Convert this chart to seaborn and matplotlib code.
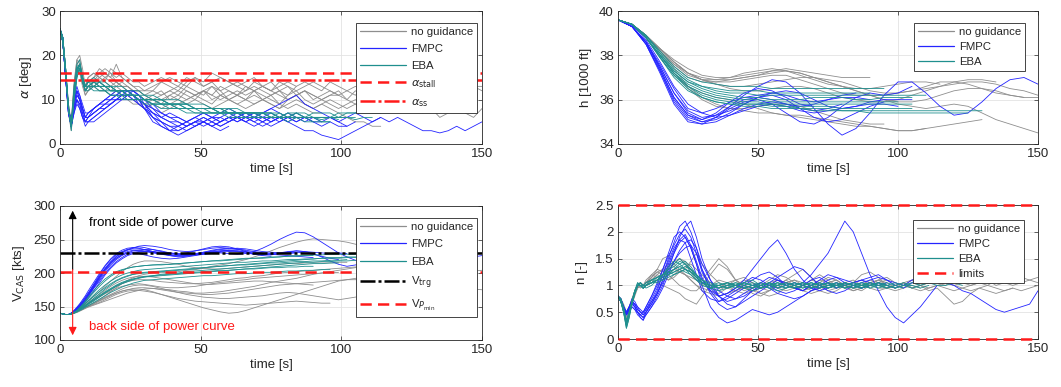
import numpy as np
import pandas as pd
import matplotlib
matplotlib.use("Agg")
import matplotlib.pyplot as plt
from matplotlib.lines import Line2D
import seaborn as sns

# ---------------------------------------------------------------------------
# Time grids [s]
# fine grid for the noisy channels (alpha, V_CAS, n), coarse for altitude
T_FINE = list(range(0, 11)) + list(range(12, 31, 2)) + list(range(33, 151, 3))
T_ALT = list(range(0, 151, 5))

GROUPS = ["no guidance", "FMPC", "EBA"]

# ---------------------------------------------------------------------------
# Angle of attack alpha [deg]
alpha_noguid = [
    [26,23,16,8,5,13,19,20,17,13,14, 15,17,16,15,18,15,14,13,12,11,
     12,14,13,12,14,15,13,14,12,13, 14,13,12,13,14,12,11,13,14,13,
     12,14,13,12,11,13,14,13,12,13, 14,13,12,14,13,14,13,12,13,13],
    [26,24,17,9,4,11,17,18,15,12,12, 13,14,15,16,14,13,13,12,12,11,
     10,11,12,11,10,11,12,10,11,10, 9,10,11,10,9,8,10,11,9,8,
     9,8,7,6,5,5,4,4],
    [26,23,15,7,3,9,15,17,14,11,12, 13,14,13,12,13,12,11,10,9,8,
     9,10,11,12,11,10,12,13,11,12, 11,10,12,11,10,9,11,12,10,9,
     10,9,8,9,10,9,8,9,7,8, 9,8,7,8,6,7,8,7,6,8],
    [26,23,16,8,5,14,19,18,15,13,15, 16,15,14,17,16,15,14,13,13,12,
     13,14,15,14,13,15,14,16,15,14, 13,14,15,13,12,14,13,12,13,14,
     13,12,11,12,13,12,11,12,11,10,10],
    [26,24,16,8,4,12,17,16,13,11,12, 14,13,12,13,12,12,11,10,9,9,
     10,9,11,10,12,11,10,9,11,10, 9,8,9,10,11,9,8,9,8,7,7],
    [26,23,16,8,4,10,16,18,16,13,13, 14,15,14,13,14,13,12,11,10,9,
     8,7,8,9,10,11,12,11,13,12, 11,12,13,12,11,12,13,11,12,10,
     11,12,11,10,12,11,10,12,11,12, 11,10,11,12,13,12,11,12,13,12],
    [26,23,16,8,4,12,18,19,15,12,13, 14,16,15,14,13,14,13,12,11,10,
     11,12,10,11,13,12,11,13,12,10, 11,13,12,10,11,12,10,11,12,11,
     10,11,12,10,9,10,11,10,9,10, 9,10,11,10,9,8,9,10],
    [26,24,17,9,5,13,18,17,14,12,14, 15,16,17,16,15,16,15,14,14,13,
     14,15,14,13,15,14,13,14,15,14, 13,12,14,13,12,13,14,13],
    [26,23,15,7,4,11,16,17,14,12,13, 13,12,12,11,12,11,10,9,9,8,
     9,8,9,10,9,10,9,8,9,10, 11,10,9,10,9,8,9,10,9,8,
     9,10,9,8,9,8,7,8,9,8, 8,9,8,9],
    [26,24,17,8,4,12,17,18,15,13,15, 16,15,16,15,14,13,13,12,12,12,
     12,11,12,13,12,11,12,11,10,11, 12,11,12,13,12,11,10,11,12,11, 10,11,11],
]
alpha_fmpc = [
    [26,23,15,7,4,7,10,9,7,5,5, 6,7,8,9,10,11,11,12,11,10,
     8,6,5,4,5,4,5,6,5,6, 7,6,5,6,7,6,5,6,5,6, 5,6,5,4],
    [26,24,16,8,4,8,11,10,8,6,6, 7,8,9,10,10,11,11,10,10,9,
     7,5,3,2,3,4,5,4,5,6, 5,6,5,4,5,6,5,4,3,3,
     2,1.5,1,2,3,4,5,6,5,6, 5,4,3,3,2.5,3,4,3,4,5],
    [26,23,15,7,4,9,12,11,9,7,7, 8,9,10,11,12,12,12,12,11,10,
     9,7,6,6,5,6,7,6,5,6, 5,6,7,6,5,6,5],
    [26,23,15,8,5,8,10,9,6,4,5, 6,7,8,9,10,10,11,11,10,9,
     8,7,6,5,4,5,6,5,4,5, 6,7,6,7,8,9,10,11,9,8, 7,6,5,6,7,6,5,6],
    [26,24,16,8,5,9,11,10,8,6,6, 7,8,9,9,10,10,11,11,10,9,
     6,5,4,3,4,5,5,6,6,7, 6,5,6,5,4,5,6,5,6,5,5],
    [26,23,15,7,4,10,12,10,7,5,6, 8,9,10,10,11,12,12,11,10,8,
     6,4,3,4,3,4,5,4,3,4],
    [26,23,16,8,4,7,9,8,6,5,6, 7,8,8,9,10,11,12,12,11,9,
     7,6,5,5,4,5,6,5,6,5, 6,7,6,5,6,5,6,7,6,5],
    [26,24,16,8,4,9,12,10,8,6,7, 8,9,9,10,11,11,11,11,10,8,
     5,4,3,3,4,5,4,5,4,5, 6,5,4,5,6],
    [26,23,15,7,4,8,10,8,6,5,5, 5,6,7,8,9,10,10,10,9,8,
     6,5,4,4,5,6,5,4,5,6, 6,5,6,7,8,7,6,5,6,5, 4,5,4,4,5],
    [26,23,15,8,5,10,13,11,8,6,7, 8,9,10,11,11,12,12,11,9,8,
     7,6,7,6,5,6,7,6,7,8, 7,6,7,6,5,6,7,6],
]
alpha_eba = [
    [26,24,17,8,4,10,16,18,15,13,14, 14,13,13,12,12,12,11,11,11,10,
     10,9,9,9,8,8,8,8,7,7, 7,7,7,6,6,7,6,6,6,6, 5.5,6,6,6,5.5,6,6],
    [26,23,16,8,4,12,17,18,14,12,13, 14,14,13,13,12,12,12,11,11,11,
     10,10,9,9,9,8,8,8,8,7, 7,7,7,7,6,6,7,6,6,6, 6,6,5.5],
    [26,24,17,9,4,11,16,17,15,13,13, 13,13,12,12,12,11,11,11,10,10,
     9,9,9,8,8,8,8,8,7,8, 7,7,7,7,7,6,7,7,6,7, 7,7,6,7,7,8,7,7,7,8,8],
    [26,23,16,8,3,10,15,17,14,12,12, 13,12,12,11,11,11,10,10,10,9,
     9,8,8,8,7,7,7,7,7,6, 6,6,6,6,6,6,5,6,5,5],
    [26,24,17,8,4,13,18,19,15,13,14, 15,14,14,13,13,13,12,12,12,11,
     11,10,10,10,9,9,9,8,8,8, 8,7,7,7,7,7,6,7,6,6, 6,6,6,6,6],
    [26,23,16,8,4,11,17,17,14,12,13, 12,12,12,11,11,10,10,10,10,10,
     9,9,8,8,8,7,7,7,7,7, 6,6,6,7,6,6,6,6,6,6, 5,5],
    [26,24,17,8,4,11,17,18,15,13,14, 13,14,13,13,12,12,12,11,11,10,
     10,10,9,9,9,8,8,8,8,7, 7,7,7,7,6,6,6,6,6,6, 6,6,6],
    [26,23,16,8,4,12,17,18,14,12,13, 13,13,13,12,12,11,11,11,10,10,
     9,9,9,9,8,8,8,7,7,7, 7,7,7,7,7,6,6,7,7,6, 6,6,7,7,7,7,7,7],
    [26,24,17,8,4,10,15,17,15,12,13, 14,13,13,12,12,12,11,11,10,10,
     10,9,9,8,8,8,7,7,7,7, 7,6,6,6,6,6,6,6,6,6],
    [26,23,16,8,4,11,16,18,15,13,14, 14,14,13,13,12,12,11,11,11,10,
     10,10,9,9,9,8,8,8,7,7, 7,7,6,6,6,6,6,6,6,5,5,5],
]
ALPHA_STALL = 16.0
ALPHA_SS = 14.5

# ---------------------------------------------------------------------------
# Altitude h [1000 ft]
h_noguid = [
    [39.6,39.4,38.9,38.2,37.6,37.2,37.0,36.9,36.9,37.0,37.1,37.2,37.3,37.2,37.0,36.8,
     36.6,36.4,36.2,36.0,35.8,35.7,35.6,35.7,35.8,35.7,35.4,35.1,34.9,34.7,34.5],
    [39.6,39.4,38.9,38.3,37.8,37.4,37.1,37.0,37.0,37.1,37.2,37.3,37.3,37.2,37.0,36.8,
     36.6,36.4,36.2,36.0,35.9,35.9,36.0,36.2,36.4,36.5,36.5,36.4,36.2,36.1],
    [39.6,39.4,38.8,38.0,37.2,36.6,36.3,36.1,36.0,35.8,35.6,35.4,35.3,35.2,35.1,35.0,
     34.9,34.8,34.8,34.7,34.6,34.6,34.7,34.8,34.9,35.0,35.1],
    [39.6,39.4,38.9,38.3,37.7,37.2,36.9,36.7,36.6,36.6,36.7,36.8,36.9,37.0,37.0,36.9,
     36.8,36.6,36.4,36.3,36.3,36.4,36.5,36.6,36.7,36.8,36.8,36.7,36.5,36.4,36.2],
    [39.6,39.4,38.9,38.2,37.5,37.0,36.8,36.8,36.9,37.0,37.1,37.3,37.4,37.3,37.2,37.1,
     37.0,37.0,37.0],
    [39.6,39.4,38.9,38.2,37.4,36.6,36.1,35.8,35.6,35.5,35.4,35.4,35.3,35.3,35.2,35.1,
     35.0,34.9,34.8,34.7,34.6,34.6,34.7],
    [39.6,39.4,38.9,38.3,37.7,37.2,36.9,36.7,36.5,36.4,36.4,36.5,36.6,36.6,36.5,36.3,
     36.1,36.0,35.9,35.9,36.0,36.2,36.4,36.6,36.8,36.9,36.9,36.8],
    [39.6,39.4,38.9,38.2,37.6,37.1,36.9,36.9,37.0,37.2,37.3,37.4,37.3,37.1,36.9,36.7,
     36.6,36.5,36.5,36.6,36.7,36.8,36.8,36.7],
    [39.6,39.4,38.8,38.0,37.2,36.5,36.0,35.7,35.6,35.6,35.7,35.8,35.8,35.7,35.5,35.3,
     35.1,35.0,34.9,34.9],
    [39.6,39.4,38.9,38.3,37.7,37.2,36.9,36.8,36.8,36.9,37.0,37.1,37.1,36.9,36.7,36.5,
     36.3,36.2,36.2,36.2,36.3,36.4,36.6,36.8,36.8,36.7,36.5,36.3,36.2,36.1,36.1],
]
h_fmpc = [
    [39.6,39.3,38.6,37.5,36.3,35.4,35.1,35.3,35.7,36.2,36.6,36.9,36.8,36.3,35.6,34.9,
     34.4,34.7,35.4,36.2,36.8,36.8,36.3,35.7,35.3,35.4,35.9,36.5,36.9,37.0,36.7],
    [39.6,39.3,38.5,37.3,36.0,35.2,35.0,35.2,35.6,35.9,36.0,35.8,35.4,35.0,34.9,35.2,
     35.7,36.1,36.3,36.2,36.3,36.6],
    [39.6,39.3,38.5,37.3,35.9,35.1,34.9,35.0,35.3,35.6,35.8,35.9,35.8,35.6,35.5,35.6,
     35.8],
    [39.6,39.3,38.6,37.6,36.5,35.6,35.4,35.6,35.9,36.1,36.2,36.3,36.2,36.0,35.9,36.0,
     36.1,36.1,36.0],
    [39.6,39.3,38.6,37.4,36.1,35.3,35.1,35.4,35.9,36.3,36.5,36.4,36.1,35.8,35.7],
    [39.6,39.4,38.7,37.7,36.6,35.8,35.4,35.2,35.3,35.5,35.7,35.8,35.7,35.5,35.4,35.5,
     35.6,35.7,35.8,35.8,35.7],
    [39.6,39.3,38.5,37.2,35.8,35.0,34.9,35.2,35.7,36.0,36.1,36.0,35.8,35.7,35.8,36.0,
     36.2,36.3],
    [39.6,39.3,38.6,37.5,36.3,35.5,35.2,35.3,35.5,35.8,36.1,36.3,36.4,36.3,36.0,35.7,
     35.6,35.7,35.9,36.0,36.0,36.0],
    [39.6,39.3,38.6,37.4,36.1,35.3,35.0,35.1,35.4,35.8,36.1,36.2,36.0,35.6,35.2,35.0,
     35.1,35.4,35.7,35.9],
]
h_eba = [
    [39.6,39.4,38.8,38.0,37.3,36.8,36.5,36.3,36.2,36.1,36.1,36.0,36.0,36.0,36.1,36.1,
     36.1,36.0,36.0,36.1,36.1,36.1],
    [39.6,39.4,38.8,37.9,37.1,36.5,36.1,35.9,35.8,35.7,35.7,35.6,35.6,35.6,35.5,35.5,
     35.5,35.5,35.4,35.4,35.4,35.4,35.4,35.4,35.4,35.4],
    [39.6,39.4,38.9,38.2,37.5,37.0,36.8,36.7,36.6,36.6,36.6,36.5,36.5,36.5,36.5,36.5,
     36.5,36.5,36.5,36.5],
    [39.6,39.4,38.8,37.9,37.0,36.4,36.1,35.9,35.8,35.8,35.8,35.8,35.7,35.7,35.7,35.7,
     35.6,35.6,35.6,35.6,35.6,35.6],
    [39.6,39.4,38.9,38.1,37.3,36.8,36.6,36.5,36.4,36.4,36.4,36.3,36.3,36.3,36.3,36.3,
     36.3,36.3,36.3],
    [39.6,39.4,38.8,38.0,37.2,36.7,36.4,36.2,36.1,36.0,36.0,35.9,35.9,35.9,35.9,35.9,
     35.9,35.9,35.9,35.9,35.9],
    [39.6,39.4,38.8,38.0,37.2,36.6,36.3,36.1,36.0,35.9,35.9,35.8,35.8,35.8,35.8,35.8,
     35.8,35.8,35.8,35.8,35.8,35.8],
    [39.6,39.4,38.9,38.1,37.4,36.9,36.6,36.4,36.3,36.3,36.2,36.2,36.2,36.2,36.2,36.2,
     36.2,36.2,36.2,36.2,36.2,36.2,36.2],
    [39.6,39.4,38.8,37.9,37.1,36.6,36.2,36.0,35.9,35.8,35.8,35.7,35.7,35.6,35.6,35.6,
     35.5,35.5,35.5,35.5,35.5,35.5,35.5,35.5,35.5,35.5,35.5],
]

# ---------------------------------------------------------------------------
# Calibrated airspeed V_CAS [kts]
v_noguid = [
    [140,139,138,138,139,141,143,145,147,149,151, 155,160,166,172,178,184,189,193,196,198,
     200,201,200,202,204,205,207,210,212,214, 217,220,224,228,233,238,242,246,249,251,
     250,249,248,246,243,240,238,236,234,232, 231,230,231,230,229,230,231,230,229,230],
    [140,139,138,138,139,140,142,144,146,148,150, 154,158,162,166,170,173,175,176,176,175,
     172,168,164,160,156,152,148,145,142,140, 141,144,148,152,156,160,164,168,172,176,
     180,184,188,190,192,194,196,198,200,201],
    [140,139,138,138,139,141,143,145,147,149,151, 155,159,164,168,172,176,179,181,182,182,
     180,177,174,171,168,166,164,163,162,162, 163,164,165,166,168,170,171,170,168,166,
     164,162,160,162,164,166,168,170,172,173, 172,170,171,173,174,175,176,175,176,175],
    [140,139,138,138,139,141,143,146,149,152,155, 160,165,170,175,180,184,187,189,190,190,
     189,187,186,185,184,184,185,186,188,190, 192,193,195,196,198,200,201,202,203,204,
     205,206,207,208,209,210],
    [140,139,138,138,139,140,141,143,145,147,149, 152,155,158,161,164,167,170,172,174,176,
     177,176,175,173,172,170,170,171,172,174, 176,178,180,183,186,188,190,192,195,198,
     200,202,204,206,208,210,211,212,213,214, 214,213,212,212,211,210,210,209],
    [140,139,138,138,139,140,142,144,146,148,150, 153,156,160,164,168,171,173,174,174,173,
     171,168,165,162,160,158,157,156,155,154, 153,152,153,154,155,156,157,158,157,156,
     155,155],
    [140,139,138,138,139,141,144,147,150,154,158, 165,172,180,188,195,202,208,213,216,218,
     218,217,215,213,210,208,207,206,206,207, 208,209,210,211,212,213,214,214,215,215,
     215,215,216,216],
    [140,139,138,138,139,141,143,146,148,151,154, 159,164,169,173,177,180,182,183,184,183,
     181,179,178,178,179,180,182,184,186,187, 189,190,192,193,194,195,196,197,198,199,
     200,200,201],
    [140,139,138,138,139,140,142,144,146,149,151, 155,159,163,167,170,173,175,177,178,178,
     177,175,173,171,170,169,168,168,169,170, 172,174,176,178,180,182,183,184,185,186,
     187,188,189,190,190,191,192,193,194,195, 196,197,198,199,200,201,202,203,203,204],
    [140,139,138,138,139,141,143,146,149,152,156, 162,168,174,180,185,189,192,194,195,195,
     194,192,190,188,186,184,183,183,184,185, 186,187,188,188,187,186,185,184,183,182],
]
v_fmpc = [
    [140,139,138,138,140,143,146,150,155,160,166, 178,190,202,212,220,226,230,233,234,235,
     235,233,230,228,227,227,228,230,232,234, 235,234,232,230,229,230,232,233,232,231,
     230,229,230,229],
    [140,139,138,138,140,142,145,149,154,159,165, 177,188,199,209,217,223,228,231,232,232,
     230,228,226,224,225,227,229,231,230,229, 228,229,232,237,243,250,256,261,260,254,
     246,238,230,224,219,215,212,214,218,222, 225,228,229,228,226,225,224,223,224,226],
    [140,139,138,138,140,144,148,153,158,164,170, 182,195,207,217,225,231,235,238,239,238,
     235,232,229,228,230,233,236,239,240,239, 236,232,228,226,225],
    [140,139,138,138,140,143,147,151,156,161,167, 180,193,205,215,222,227,230,230,229,227,
     224,222,221,222,224,226,228,229,231,232, 233,232,231,229,228,227,226,225,224,223],
    [140,139,138,138,140,142,145,148,152,157,162, 173,185,197,207,215,221,226,229,231,232,
     232,231,230,229,228,228,229,231,233,234, 233,231,229,228,227,229,231,233,232,229,
     224,218,213,210,212,215,218],
    [140,139,138,138,140,143,146,150,155,161,168, 181,194,206,216,224,230,234,237,240,241,
     240,238,235,233,232,233,235,237,238,237],
    [140,139,138,138,140,143,147,152,157,163,169, 183,197,210,220,227,232,235,236,236,235,
     232,229,227,226,226,228,230,233,235,236, 237,236,234,232,231,230,229,230],
    [140,139,138,138,140,142,146,150,155,160,166, 179,192,204,214,222,228,232,234,234,233,
     231,229,227,227,228,229,231,232,233,233, 232,230,228,227,228,229,230,231,230,228,
     225,222,220],
    [140,139,138,138,140,144,149,154,160,166,173, 186,199,211,221,229,234,237,238,237,235,
     232,229,226,225,226,228,231,234,236,237, 236,234],
]
v_eba = [
    [140,139,138,138,139,141,143,146,149,152,155, 162,169,176,182,188,192,195,198,199,200,
     201,202,203,204,205,206,208,209,210,211, 212,213,214,215,216,217,218,219,220,221,
     222,223,223,224,224,225],
    [140,139,138,138,139,141,143,145,148,151,154, 160,166,172,177,182,186,189,191,193,194,
     195,196,197,198,199,200,201,202,203,204, 205,206,207,208,209,210,211,212,213,214,
     214,215,215],
    [140,139,138,138,139,141,144,147,151,155,159, 167,175,182,188,193,197,200,202,204,205,
     206,207,208,209,210,211,212,213,214,215, 216,216,217,218,218,219,220,220,221,221,
     222,222,222,223,223,222,222,221,221,222,221],
    [140,139,138,138,139,140,142,144,146,149,151, 156,161,166,171,175,179,182,185,187,189,
     190,191,192,193,194,195,196,196,197,198, 199,199,200,201,201,202,203,203,204,204,
     205,205],
    [140,139,138,138,139,141,144,148,152,157,162, 171,180,188,195,200,204,207,209,210,211,
     212,213,213,214,215,216,217,218,219,220, 221,222,222,223,224,224,225,226,226,227,
     227,228,228,228,228],
    [140,139,138,138,139,141,143,145,148,150,153, 158,164,170,175,180,184,187,190,192,194,
     196,197,198,199,200,201,202,203,204,204, 205,206,206,207,208,208,209,209,210,210],
    [140,139,138,138,139,141,143,146,150,154,158, 165,172,178,184,189,193,196,198,200,201,
     202,203,204,205,206,207,208,209,210,211, 212,212,213,214,215,215,216,217,217,218,
     218,219,219,220],
    [140,139,138,138,139,140,142,145,148,151,154, 160,166,171,176,181,185,188,191,193,195,
     196,198,199,200,202,203,204,205,206,207, 208,209,210,211,212,213,214,215,216,216,
     217,217,218,218,219],
    [140,139,138,138,139,141,144,148,153,158,164, 174,183,191,197,202,205,207,209,210,211,
     212,212,213,214,215,216,217,218,218,219, 220,221,222,222,223,224,225,225,226,226],
]
V_TRG = 230.0
V_PMIN = 201.0

# ---------------------------------------------------------------------------
# Load factor n [-]
n_noguid = [
    [0.8,0.75,0.65,0.5,0.55,0.7,0.85,0.95,1.0,0.95,1.0, 1.1,1.2,1.15,1.1,1.2,1.3,1.35,1.4,1.3,1.2,
     1.05,0.95,1.0,0.9,0.95,1.0,1.05,1.0,0.95,1.05, 1.1,1.0,0.95,1.0,1.05,1.1,1.0,0.95,1.0,1.05,
     1.1,1.0,0.95,1.05,1.1,1.0,0.95,1.0,1.05,1.0, 0.95,1.0,1.05,1.1,1.0,1.05,1.1,1.15,1.1,1.15],
    [0.8,0.7,0.55,0.45,0.55,0.7,0.85,1.0,1.05,1.0,1.05, 1.15,1.25,1.3,1.2,1.1,1.0,0.95,0.9,0.9,1.0,
     1.2,1.4,1.3,1.1,1.0,0.9,0.95,1.05,1.1,1.0, 0.95,0.9,1.0,1.1,1.05,0.95,1.0,1.05,1.2,1.25,
     1.15,1.0,0.95,1.0,1.05,1.0,0.9,0.95,0.8,0.65, 0.7,0.85,0.95,1.0,0.95,0.9,0.95],
    [0.8,0.75,0.6,0.45,0.5,0.65,0.8,0.95,1.0,1.0,1.05, 1.1,1.05,1.0,0.95,0.9,0.85,0.75,0.7,0.65,0.8,
     1.0,1.1,1.05,1.0,0.9,0.95,1.0,1.05,0.95,0.9, 0.95,1.0,1.1,1.05,0.95,1.0,1.05,1.0,0.95,1.0,
     1.05,1.1,1.0,1.05,0.95,1.0,1.05],
    [0.8,0.7,0.6,0.5,0.6,0.75,0.9,1.0,1.0,0.95,1.0, 1.15,1.3,1.5,1.55,1.4,1.3,1.2,1.1,1.0,0.95,
     0.9,0.85,0.95,1.0,1.1,1.05,0.95,0.9,1.0,1.1, 1.2,1.3,1.15,1.0,0.9,0.95,1.05,1.1,1.0,0.95,
     0.9,0.95,1.0,1.05,0.95,0.9,0.95,1.0,0.95,0.9, 0.95,0.9,0.95,0.9,0.85,0.9,0.95,0.9,0.95,1.0],
    [0.8,0.75,0.6,0.5,0.55,0.7,0.85,1.0,1.05,1.0,1.0, 1.05,1.1,1.2,1.3,1.4,1.5,1.45,1.3,1.2,1.1,
     1.3,1.5,1.35,1.1,0.95,0.9,0.85,0.9,1.0,1.05, 1.1,1.05,1.0,0.9,0.85,0.9,1.0,1.05,1.1,1.0,
     0.95,0.95,1.0],
    [0.8,0.7,0.55,0.4,0.5,0.7,0.85,1.0,1.05,1.0,1.05, 1.2,1.15,1.1,1.2,1.3,1.25,1.2,1.15,1.1,1.05,
     1.0,0.95,1.05,1.1,1.0,0.85,0.8,0.9,1.0,1.1, 1.0,0.9,0.95,1.05,1.15,1.1,1.0,0.9,0.95,1.05,
     1.1,1.05,0.95,1.0,1.1,1.15,1.1,1.05,1.0,1.1, 1.05,1.0,1.05],
    [0.8,0.7,0.6,0.5,0.6,0.75,0.9,1.0,0.95,1.0,1.1, 1.2,1.3,1.25,1.35,1.45,1.5,1.4,1.25,1.1,1.0,
     0.95,0.9,1.0,1.1,1.15,1.05,0.95,1.0,1.1,1.05, 0.95,1.0,1.1,1.2,1.1,1.0,1.05,0.95,1.0,1.1,
     1.05,0.95,1.0],
    [0.8,0.75,0.6,0.45,0.55,0.7,0.9,1.0,1.05,1.0,1.05, 1.1,1.2,1.3,1.4,1.35,1.25,1.3,1.45,1.6,1.4,
     1.2,1.05,0.95,0.9,0.85,0.9,1.0,1.1,1.2,1.15, 1.05,1.0,0.9,0.95,1.05,1.1,1.0,0.95,0.9,1.0,
     1.1,1.15,1.05,1.0,0.95,1.0,1.05,1.1,1.05,1.0, 1.05,1.1,1.05,1.0,1.1,1.05,1.0,1.05,1.1,1.05],
    [0.8,0.7,0.55,0.45,0.55,0.7,0.85,0.95,1.0,1.0,1.05, 1.15,1.25,1.2,1.1,1.15,1.25,1.2,1.1,1.0,0.9,
     0.85,0.8,0.85,0.9,1.0,0.95,0.85,0.8,0.85,0.95, 1.0,0.9,0.85,0.9,1.0,1.05,0.95,0.9,0.95,1.05,
     1.0,0.95,0.9,0.95,1.0,0.95],
]
n_fmpc = [
    [0.8,0.7,0.6,0.45,0.6,0.7,0.6,0.5,0.45,0.4,0.5, 0.7,0.9,1.2,1.5,1.8,2.1,2.2,2.0,1.7,1.3,
     0.9,0.7,0.75,0.85,0.95,1.0,1.05,1.0,0.95,1.0, 1.05,1.0,0.95,1.0,1.1,1.15,1.05,1.0,0.95,1.0,
     1.05,1.0,0.95],
    [0.8,0.75,0.6,0.5,0.55,0.65,0.6,0.5,0.4,0.35,0.45, 0.6,0.8,1.0,1.3,1.6,1.9,2.1,2.2,1.9,1.5,
     1.1,0.8,0.7,0.75,0.85,0.95,1.05,1.15,1.1,1.0, 0.95,0.9,1.0,1.1,1.2,1.15,1.1,1.05,1.1,1.15,
     1.2,1.1,1.0,0.95,1.05,1.15,1.25,1.15,1.05,1.0, 0.9,0.85,0.75,0.65,0.55,0.5,0.55,0.6,0.65,0.9],
    [0.8,0.7,0.55,0.45,0.55,0.7,0.65,0.55,0.5,0.5,0.55, 0.7,0.85,1.05,1.25,1.45,1.6,1.7,1.75,1.6,1.3,
     1.0,0.8,0.65,0.6,0.7,0.8,0.9,1.0,1.1,1.05, 1.0,1.05,1.2,1.4,1.6,1.9,2.2,2.0,1.6,1.2,
     0.9,0.6,0.4,0.3,0.45,0.6,0.8,1.0],
    [0.8,0.75,0.6,0.5,0.6,0.75,0.7,0.6,0.55,0.5,0.6, 0.8,1.0,1.3,1.6,1.9,2.0,1.9,1.7,1.4,1.1,
     0.9,0.8,0.85,0.95,1.1,1.3,1.5,1.7,1.85,1.6, 1.3,1.1,0.95,0.9,0.95,1.0,1.05,1.0,0.95,1.0],
    [0.8,0.7,0.6,0.45,0.5,0.6,0.55,0.45,0.4,0.35,0.5, 0.65,0.85,1.1,1.35,1.6,1.8,1.9,1.7,1.4,1.0,
     0.6,0.4,0.3,0.35,0.45,0.55,0.5,0.45,0.5,0.6, 0.7,0.8,0.9,0.95,1.0,1.05,1.0],
    [0.8,0.7,0.6,0.5,0.6,0.7,0.65,0.6,0.5,0.45,0.55, 0.75,0.95,1.2,1.45,1.7,1.85,1.8,1.5,1.2,0.9,
     0.75,0.7,0.8,0.9,1.0,1.1,1.2,1.25,1.15,1.0, 0.95,0.9,1.0,1.05],
    [0.8,0.7,0.55,0.45,0.55,0.65,0.6,0.5,0.45,0.5,0.6, 0.8,1.05,1.3,1.55,1.75,1.95,2.05,1.9,1.6,1.25,
     0.95,0.8,0.85,0.95,1.05,1.15,1.1,1.0,0.9,0.85, 0.9,1.0,1.1,1.15,1.05,0.95,1.0,1.05,1.1,1.05,
     1.0,1.05],
    [0.8,0.75,0.6,0.5,0.6,0.7,0.65,0.55,0.5,0.45,0.5, 0.65,0.85,1.1,1.4,1.65,1.85,1.95,1.75,1.45,1.15,
     0.85,0.65,0.55,0.6,0.75,0.9,1.0,0.95,0.85,0.8, 0.75,0.8,0.9,1.0,1.05,0.95],
    [0.8,0.7,0.6,0.5,0.55,0.6,0.55,0.5,0.45,0.4,0.45, 0.6,0.75,0.95,1.2,1.45,1.65,1.8,1.85,1.7,1.4,
     1.1,0.9,0.8,0.75,0.8,0.9,0.95,1.05,1.15,1.25, 1.35,1.3,1.15,1.0,0.9,0.85,0.9,1.0,1.05,1.1,
     1.15,1.1,1.05,1.0,1.1,1.15,1.1],
]
n_eba = [
    [0.8,0.7,0.55,0.3,0.45,0.7,0.9,1.05,1.0,0.95,1.0, 1.05,1.1,1.15,1.2,1.25,1.3,1.35,1.3,1.2,1.1,
     1.05,1.0,0.95,1.0,1.05,1.0,0.95,1.0,1.05,1.0, 0.95,1.0,1.05,1.0,0.95,1.0,1.05,1.0,0.95,1.0,
     1.05,1.0,0.95,1.0,1.05,1.0],
    [0.8,0.7,0.5,0.2,0.4,0.7,0.9,1.0,1.05,1.0,0.95, 1.0,1.1,1.1,1.2,1.3,1.4,1.45,1.35,1.2,1.05,
     0.95,0.9,0.95,1.0,1.05,1.1,1.0,0.95,0.9,0.95, 1.0,1.05,1.0,0.95,1.0,1.05,1.0,0.95,1.0,1.05,
     1.0,0.95,1.0],
    [0.8,0.75,0.6,0.35,0.5,0.7,0.85,1.0,1.0,0.95,1.0, 1.05,1.05,1.1,1.15,1.2,1.25,1.3,1.25,1.15,1.05,
     1.0,1.05,1.0,0.95,1.0,1.05,1.0,0.95,1.0,1.05, 1.0,0.95,1.0,1.05,1.0,1.0,0.95,1.0,1.05,1.0,
     0.95,1.0,1.05,1.0,0.95,1.0,1.05,1.0,1.0,1.05,1.0],
    [0.8,0.7,0.55,0.25,0.45,0.65,0.85,1.0,1.05,1.0,1.0, 1.05,1.15,1.2,1.3,1.4,1.5,1.4,1.25,1.15,1.05,
     0.95,1.0,1.05,1.0,0.95,0.9,0.95,1.0,1.05,1.0, 0.95,1.0,1.05,1.0,0.95,1.0,1.0,1.05,1.0,0.95],
    [0.8,0.75,0.55,0.3,0.5,0.7,0.9,1.0,1.0,1.0,1.05, 1.1,1.15,1.2,1.25,1.2,1.25,1.3,1.25,1.2,1.1,
     1.0,0.95,1.0,1.05,1.0,0.95,1.0,1.05,1.0,0.95, 1.0,1.05,1.0,0.95,1.0,1.05,1.0,0.95,1.0,1.0,
     1.05,1.0,0.95,1.0,1.0],
    [0.8,0.7,0.5,0.3,0.45,0.7,0.9,1.05,1.0,0.95,1.0, 1.1,1.15,1.2,1.35,1.45,1.4,1.3,1.2,1.1,1.0,
     0.95,1.0,1.05,1.0,0.95,1.0,1.05,1.0,0.95,1.0, 1.05,1.0,0.95,1.0,1.05,1.0,0.95,1.0,1.05,1.0,
     1.0,1.0],
    [0.8,0.7,0.5,0.25,0.45,0.7,0.9,1.0,1.0,0.95,1.0, 1.05,1.1,1.15,1.25,1.3,1.35,1.4,1.3,1.15,1.05,
     1.0,0.95,1.0,1.05,1.0,0.95,1.0,1.05,1.0,0.95, 1.0,1.05,1.0,0.95,1.0,1.0,1.05,1.0,0.95,1.0,
     1.05,1.0],
    [0.8,0.75,0.55,0.35,0.5,0.7,0.85,1.0,1.05,1.0,1.0, 1.05,1.1,1.2,1.2,1.25,1.3,1.25,1.2,1.1,1.05,
     0.95,1.0,1.05,1.0,0.95,1.0,1.0,1.05,0.95,1.0, 1.05,1.0,0.95,1.0,1.05,1.0,0.95,1.0,1.0,1.05,
     1.0,0.95,1.0,1.05,1.0,0.95,1.0],
    [0.8,0.7,0.55,0.3,0.45,0.65,0.85,1.0,1.0,0.95,1.05, 1.1,1.15,1.2,1.3,1.35,1.45,1.4,1.3,1.2,1.1,
     1.0,0.95,1.0,1.0,1.05,1.0,0.95,1.0,1.05,1.0, 0.95,1.0,1.05,1.0,0.95,1.0,1.05,1.0,0.95],
    [0.8,0.7,0.5,0.2,0.4,0.65,0.85,1.0,1.0,0.95,1.0, 1.05,1.1,1.2,1.25,1.3,1.35,1.3,1.25,1.15,1.05,
     1.0,1.0,0.95,1.0,1.05,1.0,0.95,1.0,1.0,1.05, 1.0,0.95,1.0,1.05,1.0,0.95,1.0,1.05,1.0,0.95,
     1.0,1.05,1.0,0.95],
]
N_LIMITS = [0.0, 2.5]

# ---------------------------------------------------------------------------
COLORS = {"no guidance": "#8e8e8e", "FMPC": "#2424ff", "EBA": "#1f8f8e"}
RED = "#ff1a1a"
FONT = ["Liberation Sans", "DejaVu Sans"]
DASH = (0, (4.5, 2.5))
DASHDOT = (0, (6, 1.2, 1.2, 1.2))


def long_frame(runs_by_group, grid):
    rows = []
    for group, runs in runs_by_group.items():
        for k, run in enumerate(runs):
            for t, v in zip(grid, run):
                rows.append((group, f"{group}-{k}", t, v))
    return pd.DataFrame(rows, columns=["group", "run", "t", "v"])


sns.set_theme(style="whitegrid")
plt.rcParams["font.family"] = FONT
plt.rcParams["mathtext.fontset"] = "dejavusans"

fig = plt.figure(figsize=(10.61, 3.87), dpi=100)
W, H = 1061, 387


def add_axes(x0, x1, y0, y1):
    return fig.add_axes([x0 / W, 1 - y1 / H, (x1 - x0) / W, (y1 - y0) / H])


ax_a = add_axes(60, 482, 11, 144)
ax_h = add_axes(618, 1038, 11, 144)
ax_v = add_axes(60, 482, 206, 340)
ax_n = add_axes(618, 1038, 205, 339)


def draw_runs(ax, runs_by_group, grid):
    df = long_frame(runs_by_group, grid)
    sns.lineplot(data=df, x="t", y="v", hue="group", units="run", estimator=None,
                 hue_order=GROUPS, palette=COLORS, lw=0.6, sort=False,
                 legend=False, ax=ax)


def style_axes(ax, ylim, yticks, ylabel, yticklabels=None):
    ax.set_xlim(0, 150)
    ax.set_ylim(*ylim)
    ax.set_xticks([0, 50, 100, 150])
    ax.set_yticks(yticks)
    if yticklabels is not None:
        ax.set_yticklabels(yticklabels)
    ax.set_xlabel("time [s]", fontsize=9.5, color="#262626", labelpad=2)
    ax.set_ylabel(ylabel, fontsize=9.5, color="#262626", labelpad=5)
    ax.grid(True, color="#e3e3e3", lw=0.6)
    ax.tick_params(axis="both", direction="in", length=3, width=0.5,
                   labelsize=9.5, colors="#262626", pad=3,
                   top=True, right=True, bottom=True, left=True)
    for s in ax.spines.values():
        s.set_visible(True)
        s.set_color("#262626")
        s.set_linewidth(0.6)
    ax.set_facecolor("white")


def run_handles():
    return [Line2D([], [], color=COLORS[g], lw=0.9) for g in GROUPS]


def legend(ax, handles, labels, anchor, spacing=0.5, hlen=3.1):
    leg = ax.legend(handles, labels, loc="upper right", bbox_to_anchor=anchor,
                    fontsize=8.2, handlelength=hlen, handletextpad=0.45,
                    labelspacing=spacing, borderpad=0.35, fancybox=False,
                    framealpha=1, edgecolor="#262626", borderaxespad=0)
    leg.get_frame().set_linewidth(0.6)
    for txt in leg.get_texts():
        txt.set_color("#262626")
    return leg


# --- alpha --------------------------------------------------------------
draw_runs(ax_a, {"no guidance": alpha_noguid, "FMPC": alpha_fmpc, "EBA": alpha_eba}, T_FINE)
ax_a.axhline(ALPHA_STALL, color=RED, lw=1.8, ls=DASH)
ax_a.axhline(ALPHA_SS, color=RED, lw=1.8, ls=DASHDOT)
style_axes(ax_a, (0, 30), [0, 10, 20, 30], r"$\alpha$ [deg]")
h_a = run_handles() + [Line2D([], [], color=RED, lw=1.8, ls=DASH),
                       Line2D([], [], color=RED, lw=1.8, ls=DASHDOT)]
legend(ax_a, h_a, ["no guidance", "FMPC", "EBA",
                   r"$\alpha_{\mathrm{stall}}$", r"$\alpha_{\mathrm{ss}}$"],
       (0.988, 0.91), spacing=0.62, hlen=4.0)

# --- altitude -----------------------------------------------------------
draw_runs(ax_h, {"no guidance": h_noguid, "FMPC": h_fmpc, "EBA": h_eba}, T_ALT)
style_axes(ax_h, (34, 40), [34, 36, 38, 40], "h [1000 ft]")
legend(ax_h, run_handles(), GROUPS, (0.969, 0.91), spacing=0.45)

# --- airspeed -----------------------------------------------------------
draw_runs(ax_v, {"no guidance": v_noguid, "FMPC": v_fmpc, "EBA": v_eba}, T_FINE)
ax_v.axhline(V_TRG, color="black", lw=1.8, ls=DASHDOT)
ax_v.axhline(V_PMIN, color=RED, lw=1.8, ls=DASH)
style_axes(ax_v, (100, 300), [100, 150, 200, 250, 300], r"V$_{\mathrm{CAS}}$ [kts]")
ax_v.annotate("", xy=(4.5, 293), xytext=(4.5, 205),
              arrowprops=dict(arrowstyle="-|>", color="black", lw=0.8,
                              mutation_scale=12, shrinkA=0, shrinkB=0))
ax_v.annotate("", xy=(4.5, 107), xytext=(4.5, 205),
              arrowprops=dict(arrowstyle="-|>", color=RED, lw=0.8,
                              mutation_scale=12, shrinkA=0, shrinkB=0))
ax_v.text(10.2, 274, "front side of power curve", fontsize=9.5, color="black",
          va="center", ha="left")
ax_v.text(10.2, 119, "back side of power curve", fontsize=9.5, color=RED,
          va="center", ha="left")
h_v = run_handles() + [Line2D([], [], color="black", lw=1.8, ls=DASHDOT),
                       Line2D([], [], color=RED, lw=1.8, ls=DASH)]
legend(ax_v, h_v, ["no guidance", "FMPC", "EBA",
                   r"V$_{\mathrm{trg}}$", r"V$_{P_{\mathrm{min}}}$"],
       (0.988, 0.91), spacing=0.65, hlen=4.0)

# --- load factor --------------------------------------------------------
draw_runs(ax_n, {"no guidance": n_noguid, "FMPC": n_fmpc, "EBA": n_eba}, T_FINE)
for lim in N_LIMITS:
    ax_n.axhline(lim, color=RED, lw=1.8, ls=DASH, clip_on=False, zorder=5)
style_axes(ax_n, (0, 2.5), [0, 0.5, 1, 1.5, 2, 2.5], "n [-]",
           ["0", "0.5", "1", "1.5", "2", "2.5"])
h_n = run_handles() + [Line2D([], [], color=RED, lw=1.8, ls=DASH)]
legend(ax_n, h_n, ["no guidance", "FMPC", "EBA", "limits"], (0.967, 0.888), spacing=0.45)

fig.savefig("out.png", dpi=100)
